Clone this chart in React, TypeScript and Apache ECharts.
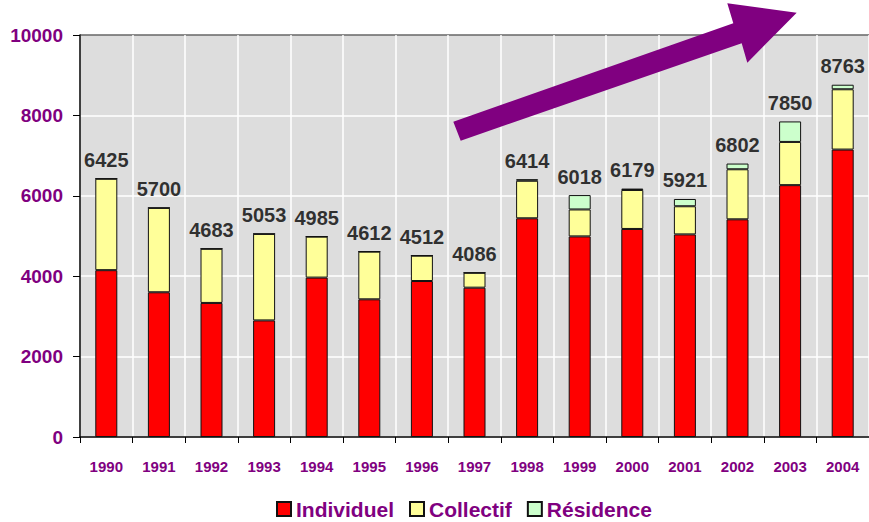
import React, { useEffect, useRef } from "react";
import * as echarts from "echarts";

const years = ["1990", "1991", "1992", "1993", "1994", "1995", "1996", "1997", "1998", "1999", "2000", "2001", "2002", "2003", "2004"];
const individuel = [4150, 3600, 3335, 2900, 3965, 3425, 3880, 3715, 5440, 4990, 5175, 5040, 5415, 6265, 7150];
const collectif = [2275, 2100, 1348, 2153, 1020, 1187, 632, 371, 934, 670, 970, 700, 1245, 1075, 1500];
const residence = [0, 0, 0, 0, 0, 0, 0, 0, 40, 358, 34, 181, 142, 510, 113];
const totals = [6425, 5700, 4683, 5053, 4985, 4612, 4512, 4086, 6414, 6018, 6179, 5921, 6802, 7850, 8763];
const seriesNames = ["Individuel", "Collectif", "Résidence"];
const seriesColors = ["#ff0000", "#ffff99", "#ccffcc"];

const FONT = "'Liberation Sans', Arial, Helvetica, sans-serif";
const PURPLE = "#800080";

export default function App() {
  const ref = useRef<HTMLDivElement>(null);
  useEffect(() => {
    document.body.style.margin = "0";
    const chart = echarts.init(ref.current!, null, { renderer: "svg" });
    const values = [individuel, collectif, residence];
    const barSeries = seriesNames.map((name, i) => ({
      name,
      type: "bar",
      stack: "total",
      barWidth: 22,
      data: values[i],
      itemStyle: { color: seriesColors[i], borderColor: "#111", borderWidth: 1 },
    }));
    chart.setOption({
      animation: false,
      backgroundColor: "#ffffff",
      grid: {
        left: 80,
        top: 35,
        width: 796,
        height: 402,
        show: true,
        backgroundColor: "#dddddd",
        borderWidth: 0,
      },
      legend: {
        data: seriesNames,
        left: 276,
        top: 497,
        padding: 0,
        icon: "rect",
        itemWidth: 14,
        itemHeight: 14,
        itemGap: 15,
        textStyle: { color: PURPLE, fontWeight: "bold", fontSize: 21, fontFamily: FONT, lineHeight: 24 },
      },
      xAxis: {
        type: "category",
        data: years,
        axisLine: { show: true, lineStyle: { color: "#000", width: 1.5 } },
        axisTick: { show: true, length: 6, lineStyle: { color: "#000" } },
        axisLabel: { color: PURPLE, fontWeight: "bold", fontSize: 15, fontFamily: FONT, margin: 22 },
        splitLine: { show: true, lineStyle: { color: "#ffffff", width: 1.5 } },
      },
      yAxis: {
        type: "value",
        min: 0,
        max: 10000,
        interval: 2000,
        axisLine: { show: true, lineStyle: { color: "#000", width: 1.5 } },
        axisTick: { show: true, length: 7, lineStyle: { color: "#000" } },
        axisLabel: {
          color: PURPLE,
          fontWeight: "bold",
          fontSize: 19,
          fontFamily: FONT,
          margin: 17,
          formatter: (v: number) => String(v),
        },
        splitLine: {
          show: true,
          lineStyle: { color: ["#ffffff", "#ffffff", "#ffffff", "#ffffff", "#ffffff", "#666666"], width: 1.5 },
        },
      },
      series: [
        ...barSeries,
        {
          name: "Total",
          type: "scatter",
          data: totals,
          symbolSize: 1,
          itemStyle: { color: "rgba(0,0,0,0)" },
          label: {
            show: true,
            position: "top",
            distance: 8,
            color: "#000",
            fontWeight: "bold",
            fontSize: 20,
            fontFamily: FONT,
          },
          z: 10,
        },
      ],
      graphic: [
        {
          type: "polygon",
          z: 100,
          shape: {
            points: [
              [453.3, 121.7],
              [733.3, 23.3],
              [727.3, 3.3],
              [796.7, 12.7],
              [747.3, 62.7],
              [741.7, 43.3],
              [460.7, 140.7],
            ],
          },
          style: { fill: PURPLE },
        },
      ],
    });
    return () => chart.dispose();
  }, []);
  return <div ref={ref} style={{ width: 869, height: 522 }} />;
}
